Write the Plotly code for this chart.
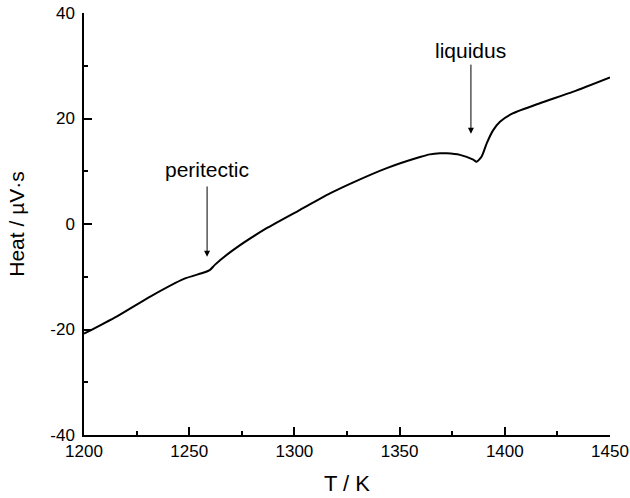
import plotly.graph_objects as go

# Data (temperature in K, heat signal in µV·s)
temperature = [1200, 1215.7, 1231.7, 1247.5, 1257, 1259.9, 1262.3, 1271, 1286.8, 1302.7,
               1316.9, 1328, 1343.9, 1359.7, 1364.4, 1369.2, 1372.4, 1378.7, 1385, 1386.6,
               1389, 1391.4, 1394.5, 1397.7, 1404, 1416.7, 1432.6, 1450]
heat = [-20.8, -17.5, -13.7, -10.4, -9.2, -8.7, -7.7, -4.9, -0.8, 2.7,
        5.8, 7.9, 10.6, 12.7, 13.2, 13.4, 13.4, 13.1, 12.2, 11.8,
        12.8, 15.3, 17.8, 19.4, 21.0, 22.9, 25.1, 27.8]

x_ticks = [1200, 1250, 1300, 1350, 1400, 1450]
x_tick_text = ["1200", "1250", "1300", "1350", "1400", "1450"]
y_ticks = [-40, -20, 0, 20, 40]
y_tick_text = ["-40", "-20", "0", "20", "40"]

annot_labels = ["peritectic", "liquidus"]
annot_x = [1258.5, 1383.9]
annot_text_y = [10.3, 32.8]
arrow_tail_y = [7.4, 30.5]
arrow_head_y = [-6.2, 17.1]

FONT = "Liberation Sans, Arial, sans-serif"

fig = go.Figure()
fig.add_trace(go.Scatter(
    x=temperature, y=heat, mode="lines",
    line=dict(color="black", width=2, shape="spline", smoothing=0.6),
    showlegend=False, hoverinfo="skip"))

for lab, xa, ty, tail, head in zip(annot_labels, annot_x, annot_text_y, arrow_tail_y, arrow_head_y):
    fig.add_annotation(x=xa, y=ty, text=lab, showarrow=False,
                       font=dict(family=FONT, size=21, color="black"))
    fig.add_annotation(x=xa, y=head, ax=xa, ay=tail, axref="x", ayref="y",
                       text="", showarrow=True, arrowhead=2, arrowsize=1.2,
                       arrowwidth=1, arrowcolor="black")

axis_common = dict(
    showline=True, linecolor="black", linewidth=1.5, mirror=False,
    showgrid=False, zeroline=False, ticks="inside", ticklen=8, tickwidth=1.5,
    tickcolor="black", tickfont=dict(family=FONT, size=17, color="black"),
)

fig.update_xaxes(range=[1200, 1450], tickvals=x_ticks, ticktext=x_tick_text,
                 minor=dict(dtick=25, ticks="inside", ticklen=4, tickwidth=1.5, tickcolor="black"),
                 title=dict(text="T / K", font=dict(family=FONT, size=22, color="black"), standoff=15),
                 **axis_common)
fig.update_yaxes(range=[-40, 40], tickvals=y_ticks, ticktext=y_tick_text, ticklabelstandoff=4,
                 minor=dict(dtick=10, ticks="inside", ticklen=4, tickwidth=1.5, tickcolor="black"),
                 title=dict(text="Heat / µV·s", font=dict(family=FONT, size=21, color="black"), standoff=20),
                 **axis_common)

fig.update_layout(
    width=630, height=498,
    margin=dict(l=84, r=20, t=13, b=63, autoexpand=False),
    plot_bgcolor="white", paper_bgcolor="white",
    font=dict(family=FONT, color="black"),
)

fig.write_html("out.html", config={"displayModeBar": False},
               post_script="document.body.style.margin='0px';")
